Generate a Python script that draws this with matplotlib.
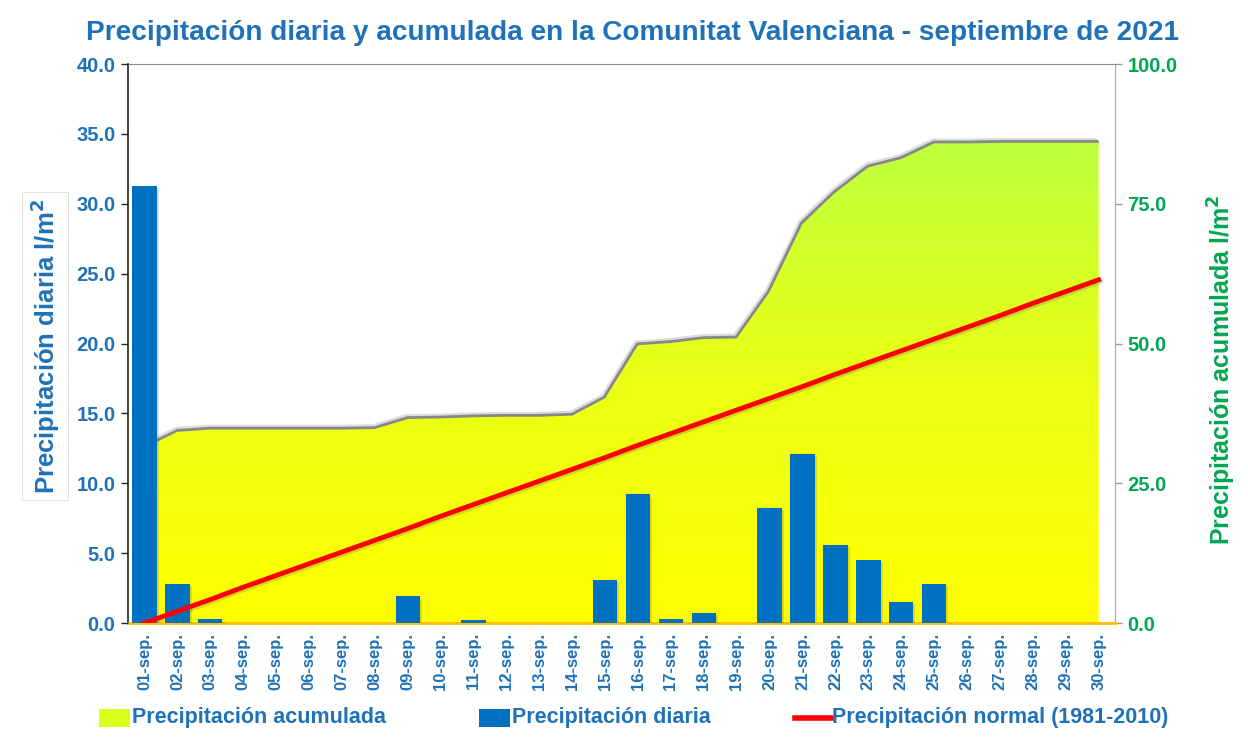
import numpy as np
import matplotlib
matplotlib.use('Agg')
import matplotlib.pyplot as plt
import matplotlib.patheffects as pe
from matplotlib.colors import LinearSegmentedColormap
from matplotlib.patches import Rectangle
from matplotlib.lines import Line2D

plt.rcParams['font.family'] = ['Liberation Sans', 'DejaVu Sans']

dias = ['01-sep.', '02-sep.', '03-sep.', '04-sep.', '05-sep.', '06-sep.', '07-sep.', '08-sep.',
        '09-sep.', '10-sep.', '11-sep.', '12-sep.', '13-sep.', '14-sep.', '15-sep.', '16-sep.',
        '17-sep.', '18-sep.', '19-sep.', '20-sep.', '21-sep.', '22-sep.', '23-sep.', '24-sep.',
        '25-sep.', '26-sep.', '27-sep.', '28-sep.', '29-sep.', '30-sep.']
diaria = [31.3, 2.8, 0.3, 0, 0, 0, 0, 0, 1.9, 0, 0.2, 0, 0, 0, 3.1,
          9.2, 0.3, 0.7, 0, 8.2, 12.1, 5.6, 4.5, 1.5, 2.8, 0, 0, 0, 0, 0]
acumulada = [31.3, 34.2, 34.6, 34.6, 34.6, 34.6, 34.6, 34.7, 36.5, 36.6, 36.8, 36.9, 36.9, 37.1, 40.2,
             49.7, 50.1, 50.8, 50.9, 59.2, 71.4, 77.0, 81.5, 83.0, 85.8, 85.8, 85.9, 85.9, 85.9, 85.9]
normal = [0.0, 2.1, 4.2, 6.4, 8.5, 10.6, 12.7, 14.8, 16.9, 19.1, 21.2, 23.3, 25.4, 27.5, 29.6,
          31.8, 33.9, 36.0, 38.1, 40.2, 42.3, 44.5, 46.6, 48.7, 50.8, 52.9, 55.0, 57.2, 59.3, 61.4]

AZUL = '#1f72b8'
VERDE = '#00a651'
BARRA = '#0070c0'

fig = plt.figure(figsize=(12.48, 7.40), dpi=100)
ax = fig.add_axes([0.1026, 0.1581, 0.7909, 0.7554])
ax2 = ax.twinx()
ax2.set_zorder(1)
ax.set_zorder(2)
ax.patch.set_visible(False)

x = np.arange(len(dias))

# area acumulada con degradado, borde gris como sombra
ax2.plot(x, acumulada, color='#888888', lw=4, zorder=1, solid_capstyle='butt',
         path_effects=[pe.SimpleLineShadow(offset=(-1, 1.5), shadow_color='#bbbbbb', alpha=0.5), pe.Normal()])
poly = ax2.fill_between(x, 0, acumulada, color='none', lw=0, zorder=2)
cmap = LinearSegmentedColormap.from_list('amv', ['#ffff00', '#eaff14', '#bcff3e'])
grad = np.linspace(0, 1, 256).reshape(-1, 1)
im = ax2.imshow(grad, extent=[-0.5, 29.5, 0, 88], origin='lower', aspect='auto',
                cmap=cmap, zorder=2)
im.set_clip_path(poly.get_paths()[0], transform=ax2.transData)
ax2.set_xlim(-0.5, 29.5)
ax2.set_ylim(0, 100)

# barras diarias
ax.bar(x, diaria, width=0.74, color=BARRA, zorder=3,
       path_effects=[pe.SimplePatchShadow(offset=(1.5, -1.5), shadow_rgbFace='#555555', alpha=0.2),
                     pe.Normal()])

# normal (eje secundario, dibujada delante)
ax.plot(x, normal, color='#ff0000', lw=3.5, zorder=4, transform=ax2.transData,
        path_effects=[pe.SimpleLineShadow(offset=(1, -1.5), shadow_color='#666666', alpha=0.25),
                      pe.Normal()])

ax.set_xlim(-0.5, 29.5)
ax.set_ylim(0, 40)
ax.set_yticks(np.arange(0, 40.1, 5))
ax.set_yticklabels([f'{v:.1f}' for v in np.arange(0, 40.1, 5)])
ax2.set_yticks([0, 25, 50, 75, 100])
ax2.set_yticklabels(['0.0', '25.0', '50.0', '75.0', '100.0'])
ax.set_xticks(x)
ax.set_xticklabels(dias, rotation=90)

for lab in ax.get_yticklabels() + ax.get_xticklabels() + ax2.get_yticklabels():
    lab.set_fontweight('bold')
ax.tick_params(axis='y', colors='#222222', labelcolor=AZUL, labelsize=14.5, length=5, width=1,
               direction='out', pad=4)
ax.tick_params(axis='x', labelcolor=AZUL, labelsize=12, length=0, pad=7)
ax2.tick_params(axis='y', colors='#999999', labelcolor=VERDE, labelsize=14.5, length=5, width=1,
                direction='out', pad=4)

for s in ax.spines.values():
    s.set_visible(False)
ax2.spines['left'].set_color('#222222')
ax2.spines['left'].set_linewidth(1.2)
ax2.spines['right'].set_color('#aaaaaa')
ax2.spines['top'].set_color('#888888')
ax2.spines['top'].set_linewidth(0.8)
ax2.spines['bottom'].set_color('#ffc000')
ax2.spines['bottom'].set_linewidth(2)

fig.text(0.507, 0.955, 'Precipitación diaria y acumulada en la Comunitat Valenciana - septiembre de 2021',
         ha='center', va='center', fontsize=20.2, fontweight='bold', color=AZUL)
fig.text(0.036, 0.532, 'Precipitación diaria l/m$^\\mathbf{2}$', rotation=90, ha='center', va='center',
         fontsize=18.5, fontweight='bold', color=AZUL,
         bbox=dict(facecolor='white', edgecolor='#dddddd', boxstyle='square,pad=0.25', lw=0.6))
fig.text(0.979, 0.50, 'Precipitación acumulada l/m$^\\mathbf{2}$', rotation=90, ha='center', va='center',
         fontsize=18, fontweight='bold', color=VERDE,
         bbox=dict(facecolor='white', edgecolor='none', boxstyle='square,pad=0.2'))

# leyenda inferior
ly = 0.024
fig.patches.append(Rectangle((0.079, ly - 0.006), 0.025, 0.024, transform=fig.transFigure,
                             facecolor='#d8ff20', edgecolor='none'))
fig.text(0.106, ly + 0.006, 'Precipitación acumulada', ha='left', va='center',
         fontsize=15.5, fontweight='bold', color=AZUL)
fig.patches.append(Rectangle((0.384, ly - 0.006), 0.025, 0.024, transform=fig.transFigure,
                             facecolor=BARRA, edgecolor='none'))
fig.text(0.410, ly + 0.006, 'Precipitación diaria', ha='left', va='center',
         fontsize=15.5, fontweight='bold', color=AZUL)
fig.lines.append(Line2D([0.637, 0.666], [ly + 0.006, ly + 0.006], transform=fig.transFigure,
                        color='#ff0000', lw=4))
fig.text(0.667, ly + 0.006, 'Precipitación normal (1981-2010)', ha='left', va='center',
         fontsize=15.5, fontweight='bold', color=AZUL)

fig.savefig('out.png', dpi=100)
